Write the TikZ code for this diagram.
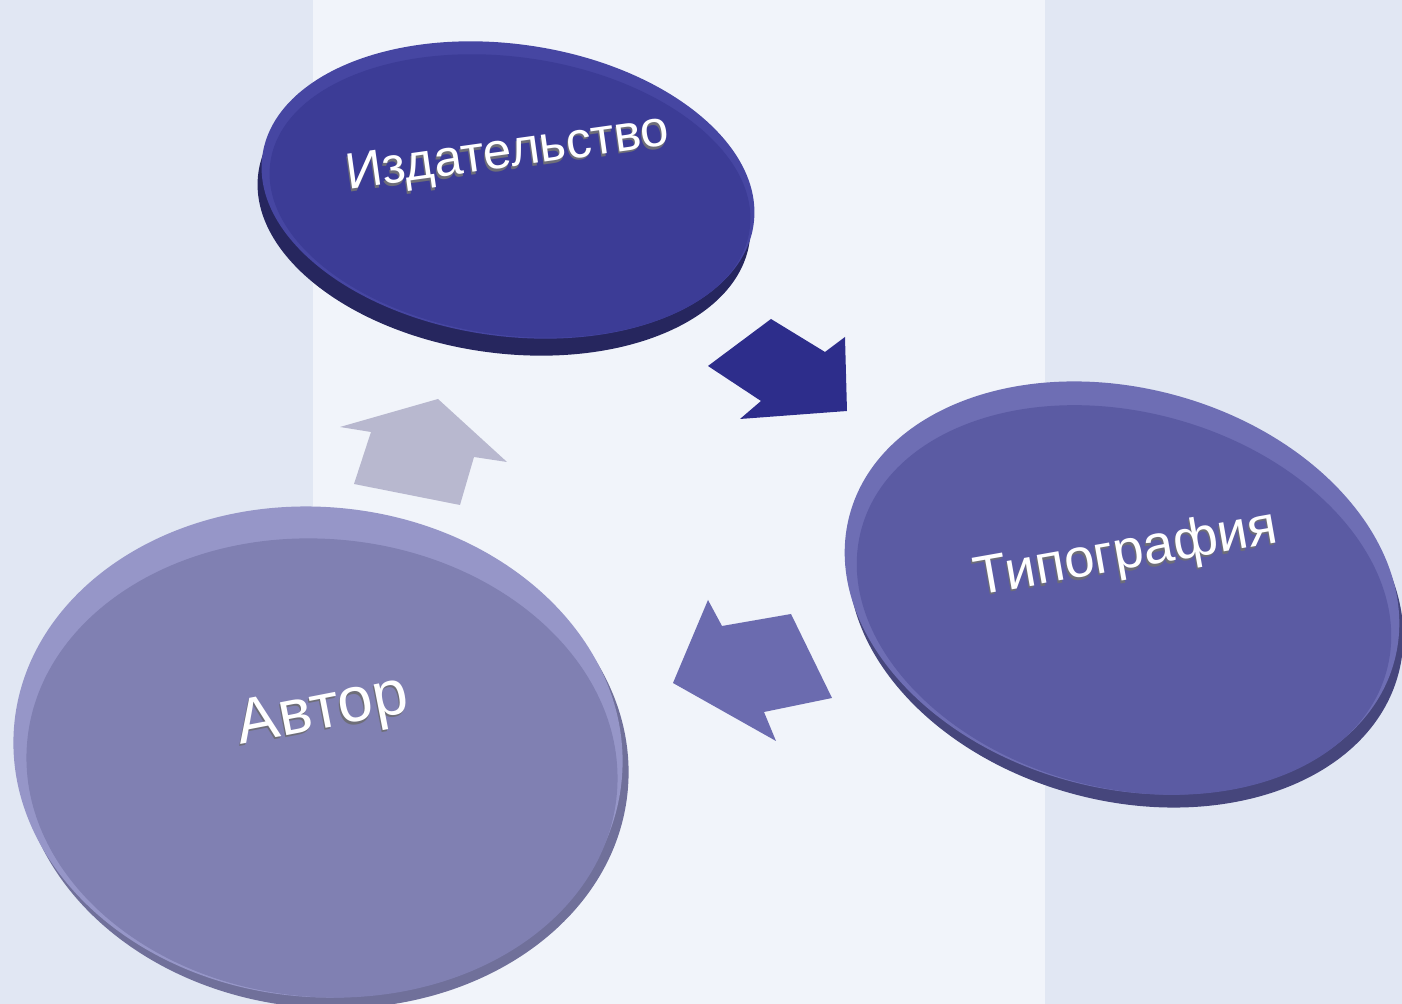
\documentclass[tikz,border=0pt]{standalone}
\usepackage{fontspec}
\setmainfont{Liberation Sans}
\definecolor{bgout}{HTML}{E1E7F3}
\definecolor{bgpanel}{HTML}{F1F4FA}
\definecolor{izdface}{HTML}{3C3C96}
\definecolor{izdrim}{HTML}{4646A2}
\definecolor{izdside}{HTML}{26265E}
\definecolor{tipface}{HTML}{5B5BA3}
\definecolor{tiprim}{HTML}{6E6EB4}
\definecolor{tipside}{HTML}{46467C}
\definecolor{avtface}{HTML}{8080B2}
\definecolor{avtrim}{HTML}{9696C8}
\definecolor{avtside}{HTML}{70709A}
\definecolor{arrA}{HTML}{2D2D8B}
\definecolor{arrB}{HTML}{6B6BAF}
\definecolor{arrC}{HTML}{B8B8CF}
\definecolor{txtsh}{HTML}{6E6E78}
\tikzset{
  lbl/.style={text=white, inner sep=0pt},
  lblsh/.style={text=txtsh, inner sep=0pt},
}
\begin{document}
\begin{tikzpicture}[x=0.01cm,y=-0.01cm]
\useasboundingbox (0,0) rectangle (1402,1004);
\clip (0,0) rectangle (1402,1004);
\fill[bgout] (0,0) rectangle (1402,1004);
\fill[bgpanel] (313,0) rectangle (1045,1004);

% Издательство disc
\fill[izdside, rotate around={-8:(504,207)}] (504,207) ellipse [x radius=248, y radius=146];
\fill[izdrim, rotate around={-8:(508,190)}] (508,190) ellipse [x radius=248, y radius=146];
\fill[izdface, rotate around={-8:(510,196)}] (510,196) ellipse [x radius=242, y radius=139];

% Типография disc
\fill[tipside, rotate around={-15:(1126,601)}] (1126,601) ellipse [x radius=282, y radius=200];
\fill[tiprim, rotate around={-15:(1122,588)}] (1122,588) ellipse [x radius=282, y radius=200];
\fill[tipface, rotate around={-15:(1124,600)}] (1124,600) ellipse [x radius=272, y radius=188];

% Автор disc
\fill[avtside, rotate around={-5:(324,763)}] (324,763) ellipse [x radius=305, y radius=245];
\fill[avtrim, rotate around={-5:(318,752)}] (318,752) ellipse [x radius=305, y radius=245];
\fill[avtface, rotate around={-5:(322,768)}] (322,768) ellipse [x radius=296, y radius=229];

% block arrows
\fill[arrA] (708,366) -- (771,319) -- (825,352) -- (845,337) -- (847,411) -- (740,419) -- (761,401) -- cycle;
\fill[arrC] (340,427) -- (438,399) -- (507,462) -- (474,457) -- (460,505) -- (354,484) -- (371,432) -- cycle;
\fill[arrB] (708,600) -- (722,626) -- (791,614) -- (832,698) -- (764,712) -- (776,741) -- (673,683) -- cycle;

% labels
\node[lblsh, rotate=8, font=\fontsize{14.5}{17}\selectfont] (izdsh) at (507,157.5) {Издательство};
\node[lbl, rotate=8, font=\fontsize{14.5}{17}\selectfont] (izd) at (508,155) {Издательство};
\node[lblsh, rotate=10, font=\fontsize{15.5}{18}\selectfont] (tipsh) at (1125,557.5) {Типография};
\node[lbl, rotate=10, font=\fontsize{15.5}{18}\selectfont] (tip) at (1126,555) {Типография};
\node[lblsh, rotate=11, font=\fontsize{18}{21}\selectfont] (avtsh) at (322,715.5) {Автор};
\node[lbl, rotate=11, font=\fontsize{18}{21}\selectfont] (avt) at (323,713) {Автор};
\end{tikzpicture}
\end{document}
